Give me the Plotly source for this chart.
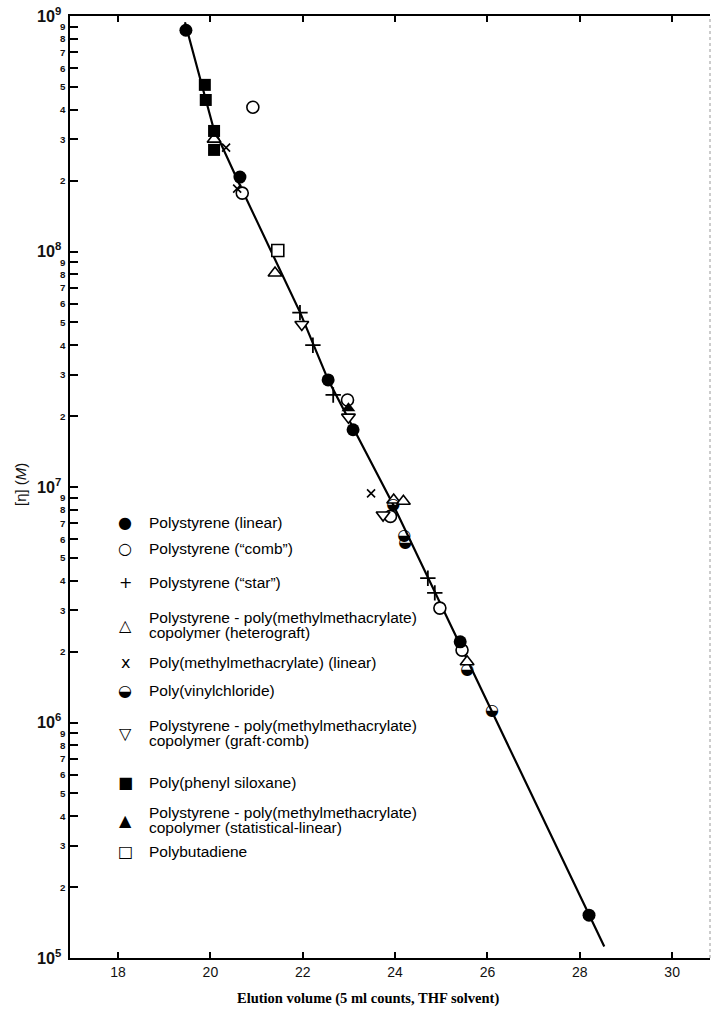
import plotly.graph_objects as go

# ---- data ----
fit_x = [19.45, 20.06, 20.64, 21.94, 22.55, 23.96, 26.10, 28.53]
fit_y = [9.4e8, 3.38e8, 1.91e8, 5.53e7, 2.85e7, 8.4e6, 1.11e6, 1.12e5]

ps_linear_x = [19.47, 20.64, 22.55, 23.09, 25.41, 28.20]
ps_linear_y = [8.7e8, 2.07e8, 2.85e7, 1.75e7, 2.2e6, 1.52e5]

ps_comb_x = [20.92, 20.69, 22.97, 23.90, 24.97, 25.45]
ps_comb_y = [4.1e8, 1.77e8, 2.34e7, 7.5e6, 3.06e6, 2.03e6]

ps_star_x = [21.94, 22.22, 22.66, 24.71, 24.86]
ps_star_y = [5.5e7, 4.0e7, 2.46e7, 4.1e6, 3.55e6]

hetero_x = [20.08, 21.40, 23.97, 24.18, 25.56]
hetero_y = [3.0e8, 8.1e7, 8.8e6, 8.7e6, 1.81e6]

pmma_x = [20.34, 20.58, 23.48]
pmma_y = [2.76e8, 1.85e8, 9.4e6]

pvc_x = [23.96, 24.20, 24.22, 25.56, 26.10]
pvc_y = [8.4e6, 6.2e6, 5.8e6, 1.67e6, 1.12e6]

graft_x = [21.98, 22.99, 23.74]
graft_y = [4.9e7, 1.98e7, 7.6e6]

silox_x = [19.88, 19.90, 20.08, 20.08]
silox_y = [5.1e8, 4.4e8, 3.25e8, 2.7e8]

stat_x = [22.99]
stat_y = [2.16e7]

pbd_x = [21.46]
pbd_y = [1.01e8]

x_ticks = [18, 20, 22, 24, 26, 28, 30]

legend_items = [
    ("●", ["Polystyrene (linear)"]),
    ("○", ["Polystyrene (“comb”)"]),
    ("+", ["Polystyrene (“star”)"]),
    ("△", ["Polystyrene - poly(methylmethacrylate)", "copolymer (heterograft)"]),
    ("x", ["Poly(methylmethacrylate) (linear)"]),
    ("◒", ["Poly(vinylchloride)"]),
    ("▽", ["Polystyrene - poly(methylmethacrylate)", "copolymer (graft·comb)"]),
    ("■", ["Poly(phenyl siloxane)"]),
    ("▲", ["Polystyrene - poly(methylmethacrylate)", "copolymer (statistical-linear)"]),
    ("□", ["Polybutadiene"]),
]
legend_rows_px = [522, 548, 582, 625, 662, 690, 733, 782, 820, 851]

# ---- figure ----
W, H = 712, 1012
ML, MR, MT, MB = 70, 2, 16, 54
PW, PH = W - ML - MR, H - MT - MB

def px_x(px):
    return (px - ML) / PW

def px_y(py):
    return (H - MB - py) / PH

fig = go.Figure()
fig.add_trace(go.Scatter(x=fit_x, y=fit_y, mode="lines",
                         line=dict(color="black", width=2.2), hoverinfo="skip"))

def add_markers(xs, ys, symbol, size, fill, lw=1.6):
    fig.add_trace(go.Scatter(
        x=xs, y=ys, mode="markers",
        marker=dict(symbol=symbol, size=size, color=fill,
                    line=dict(color="black", width=lw))))

add_markers(ps_comb_x, ps_comb_y, "circle", 12, "white")
add_markers(hetero_x, hetero_y, "triangle-up", 12, "white")
add_markers(graft_x, graft_y, "triangle-down", 12, "white")
add_markers(pbd_x, pbd_y, "square", 12, "white")
add_markers(ps_linear_x, ps_linear_y, "circle", 13, "black", 0)
add_markers(silox_x, silox_y, "square", 12, "black", 0)
add_markers(stat_x, stat_y, "triangle-up", 12, "black", 0)
add_markers(ps_star_x, ps_star_y, "cross-thin", 11, "black", 1.8)
add_markers(pmma_x, pmma_y, "x-thin", 8, "black", 1.6)
fig.add_trace(go.Scatter(
    x=pvc_x, y=pvc_y, mode="text", text=["◒"] * len(pvc_x),
    textposition="middle center",
    textfont=dict(family="DejaVu Sans", size=16, color="black")))

annotations = []
for (sym, lines), row in zip(legend_items, legend_rows_px):
    annotations.append(dict(
        x=px_x(125), y=px_y(row), xref="paper", yref="paper", text=sym,
        showarrow=False, xanchor="center", yanchor="middle",
        font=dict(family="DejaVu Sans", size=16 if sym not in "+x" else 16,
                  color="black")))
    n = len(lines)
    for i, line in enumerate(lines):
        off = (i - (n - 1) / 2) * 15.5
        annotations.append(dict(
            x=px_x(147), y=px_y(row + off), xref="paper", yref="paper",
            text=line, showarrow=False, xanchor="left", yanchor="middle",
            font=dict(family="Liberation Sans", size=15.5, color="#000")))

annotations.append(dict(
    x=px_x(368), y=px_y(998), xref="paper", yref="paper",
    text="<b>Elution volume (5 ml counts, THF solvent)</b>", showarrow=False,
    xanchor="center", yanchor="middle",
    font=dict(family="Liberation Serif", size=14.5, color="black")))
annotations.append(dict(
    x=px_x(20), y=px_y(485), xref="paper", yref="paper",
    text="[η] (<i>M</i>)", showarrow=False, textangle=-90,
    xanchor="center", yanchor="middle",
    font=dict(family="Liberation Sans", size=15, color="#111")))

fig.update_layout(
    width=W, height=H, margin=dict(l=ML, r=MR, t=MT, b=MB),
    paper_bgcolor="white", plot_bgcolor="white", showlegend=False,
    annotations=annotations,
    shapes=[dict(type="line", xref="paper", yref="paper", x0=1, x1=1, y0=0, y1=1,
                 line=dict(color="#999", width=1, dash="dot"))],
)
fig.update_xaxes(range=[16.96, 30.82], tickvals=x_ticks, ticks="inside", ticklen=6,
                 tickwidth=1.5, tickcolor="black", showline=True, linecolor="black",
                 linewidth=2, mirror="ticks", showgrid=False, zeroline=False,
                 tickfont=dict(family="Liberation Sans", size=14, color="#111"))
fig.update_yaxes(type="log", range=[5, 9], dtick="D1", exponentformat="power",
                 ticks="inside", ticklen=8, tickwidth=1.5, tickcolor="black",
                 showline=True, linecolor="black", linewidth=2, showgrid=False,
                 zeroline=False,
                 tickfont=dict(family="Liberation Sans", size=13, color="#111",
                               weight="bold"))

fig.write_html("out.html")
